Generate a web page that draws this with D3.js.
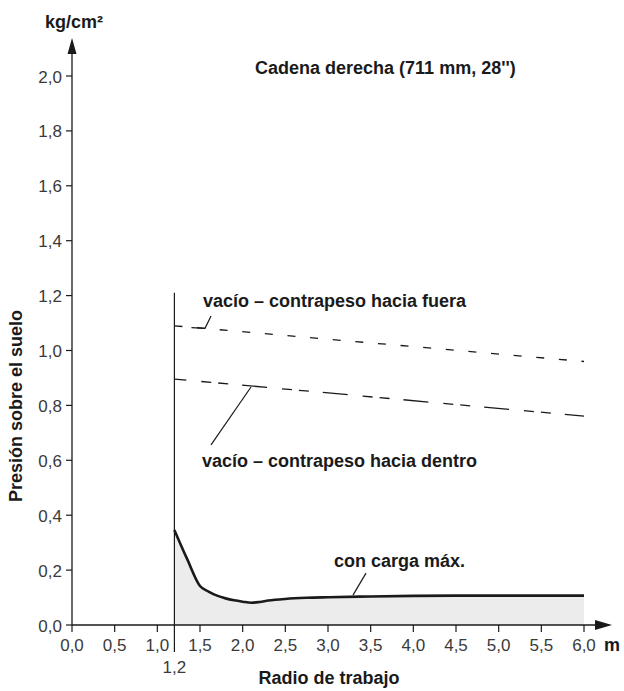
<!DOCTYPE html>
<html><head><meta charset="utf-8">
<script src="https://cdn.jsdelivr.net/npm/d3@7"></script>
<style>
html,body{margin:0;padding:0;background:#fff;}
svg{display:block;}
.tick-label{font-family:"Liberation Sans",Arial,sans-serif;font-size:17px;fill:#3a3a3a;}
.bold{font-family:"Liberation Sans",Arial,sans-serif;font-size:18px;font-weight:bold;fill:#1a1a1a;}
</style>
</head><body>
<script>
// ---- data ----
const xTicks = [0,0.5,1.0,1.5,2.0,2.5,3.0,3.5,4.0,4.5,5.0,5.5,6.0];
const yTicks = [0,0.2,0.4,0.6,0.8,1.0,1.2,1.4,1.6,1.8,2.0];
const minRadius = 1.2;
const loadX = [1.2,1.35,1.5,1.6,1.7,1.8,1.9,2.0,2.1,2.2,2.3,2.5,2.75,3.0,3.5,4.0,4.5,5.0,5.5,6.0];
const loadY = [0.346,0.24,0.142,0.122,0.107,0.097,0.09,0.085,0.081,0.084,0.089,0.095,0.099,0.101,0.104,0.106,0.107,0.107,0.107,0.107];
const outX = [1.2,6.0];
const outY = [1.09,0.96];
const inX = [1.2,6.0];
const inY = [0.896,0.761];
const title = "Cadena derecha (711 mm, 28'')";
const labelOut = "vacío – contrapeso hacia fuera";
const labelIn = "vacío – contrapeso hacia dentro";
const labelLoad = "con carga máx.";
const xTitle = "Radio de trabajo";
const yTitle = "Presión sobre el suelo";
const yUnit = "kg/cm²";
const xUnit = "m";

const W = 624, H = 691;
const svg = d3.select("body").append("svg").attr("width",W).attr("height",H);
const x = d3.scaleLinear().domain([0,6]).range([72,584]);
const y = d3.scaleLinear().domain([0,2]).range([625,76]);
const fmt = v => d3.format(".1f")(v).replace(".",",");
const ink = "#1a1a1a";

// fill under load curve
const loadData = loadX.map((v,i)=>[v,loadY[i]]);
svg.append("path")
  .attr("d", d3.area().x(d=>x(d[0])).y0(y(0)).y1(d=>y(d[1])).curve(d3.curveMonotoneX)(loadData))
  .attr("fill","#ebeceb");

// axes
svg.append("line").attr("x1",x(0)).attr("x2",598).attr("y1",y(0)).attr("y2",y(0)).attr("stroke",ink).attr("stroke-width",1.3);
svg.append("path").attr("d",`M612,${y(0)} L595,${y(0)-5} L595,${y(0)+5} Z`).attr("fill",ink);
svg.append("line").attr("x1",x(0)).attr("x2",x(0)).attr("y1",y(0)).attr("y2",50).attr("stroke",ink).attr("stroke-width",1.3);
svg.append("path").attr("d",`M${x(0)},38 L${x(0)-4.5},54 L${x(0)+4.5},54 Z`).attr("fill",ink);

// y ticks
yTicks.forEach(t=>{
  svg.append("line").attr("x1",x(0)-6).attr("x2",x(0)).attr("y1",y(t)).attr("y2",y(t)).attr("stroke",ink).attr("stroke-width",1.2);
  svg.append("text").attr("class","tick-label").attr("x",x(0)-10).attr("y",y(t)+6.5).attr("text-anchor","end").text(fmt(t));
});
// x ticks
xTicks.forEach(t=>{
  svg.append("line").attr("x1",x(t)).attr("x2",x(t)).attr("y1",y(0)).attr("y2",y(0)+7).attr("stroke",ink).attr("stroke-width",1.2);
  svg.append("text").attr("class","tick-label").attr("x",x(t)).attr("y",651).attr("text-anchor","middle").text(fmt(t));
});
// min radius line
svg.append("line").attr("x1",x(minRadius)).attr("x2",x(minRadius)).attr("y1",y(1.21)).attr("y2",652).attr("stroke",ink).attr("stroke-width",1.2);
svg.append("text").attr("class","tick-label").attr("x",x(minRadius)).attr("y",673).attr("text-anchor","middle").text(fmt(minRadius));

// dashed lines
const line = d3.line().x(d=>x(d[0])).y(d=>y(d[1]));
svg.append("path").attr("d",line(outX.map((v,i)=>[v,outY[i]])))
  .attr("fill","none").attr("stroke",ink).attr("stroke-width",1.3).attr("stroke-dasharray","8,14.7");
svg.append("path").attr("d",line(inX.map((v,i)=>[v,inY[i]])))
  .attr("fill","none").attr("stroke",ink).attr("stroke-width",1.3).attr("stroke-dasharray","25,15,10,7,10,14").attr("stroke-dashoffset",13);

// load curve
svg.append("path").attr("d",d3.line().x(d=>x(d[0])).y(d=>y(d[1])).curve(d3.curveMonotoneX)(loadData))
  .attr("fill","none").attr("stroke",ink).attr("stroke-width",2.6).attr("stroke-linejoin","round");

// leaders
const leader = pts => svg.append("path").attr("d",line(pts)).attr("fill","none").attr("stroke",ink).attr("stroke-width",1.2);
leader([[1.4,1.083],[1.559,1.081],[1.629,1.126]]);
leader([[2.098,0.867],[1.629,0.656]]);
leader([[3.445,0.189],[3.293,0.109]]);

// texts
svg.append("text").attr("class","bold").attr("x",x(2.145)).attr("y",74).text(title);
svg.append("text").attr("class","bold").attr("x",x(1.535)).attr("y",307).text(labelOut);
svg.append("text").attr("class","bold").attr("x",x(1.523)).attr("y",467).text(labelIn);
svg.append("text").attr("class","bold").attr("x",x(3.07)).attr("y",567).text(labelLoad);
svg.append("text").attr("class","bold").attr("x",329).attr("y",684).attr("text-anchor","middle").text(xTitle);
svg.append("text").attr("class","bold").attr("x",604).attr("y",651).text(xUnit);
svg.append("text").attr("class","bold").attr("x",45).attr("y",28).text(yUnit);
svg.append("text").attr("class","bold").attr("transform","translate(22,406) rotate(-90)").attr("text-anchor","middle").text(yTitle);
</script>
</body></html>
